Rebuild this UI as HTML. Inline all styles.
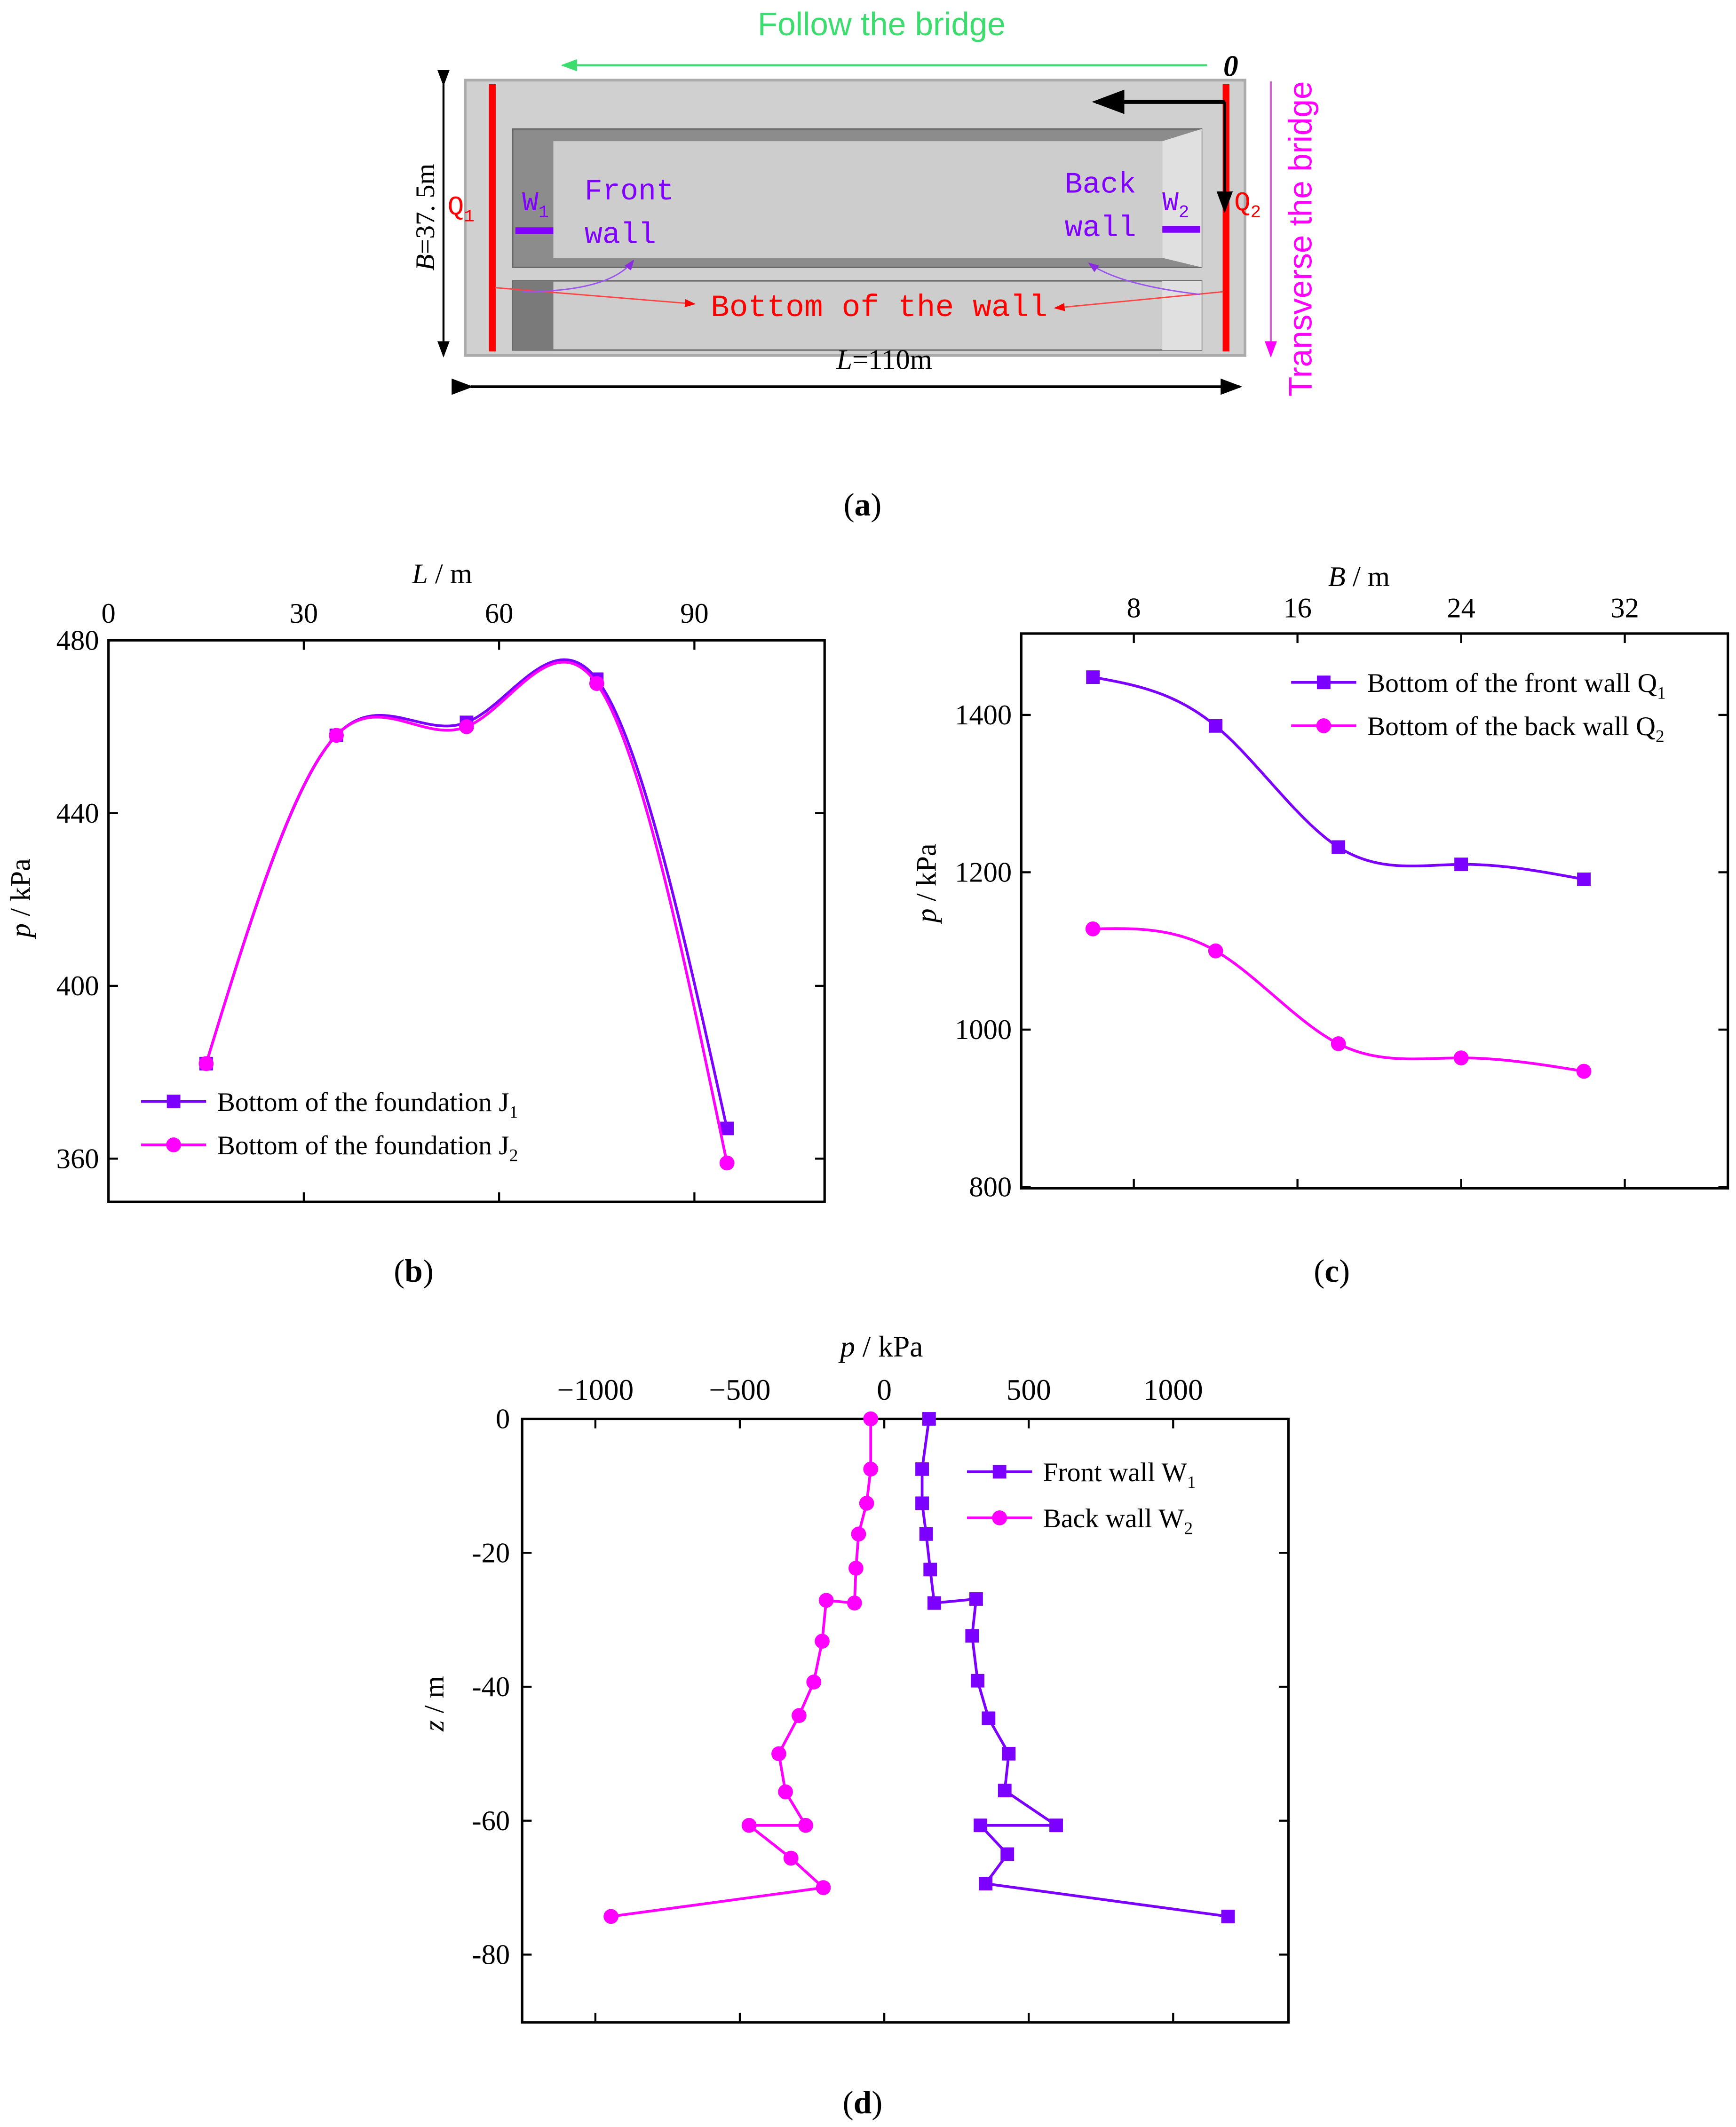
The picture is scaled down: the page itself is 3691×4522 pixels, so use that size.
<!DOCTYPE html>
<html><head><meta charset="utf-8"><style>
html,body{margin:0;padding:0;background:#fff;}
svg{display:block;}
.t{font-family:"Liberation Serif",serif;fill:#000;}
</style></head><body>
<svg id="fig" width="3691" height="4522" viewBox="0 0 1280 1568" xmlns="http://www.w3.org/2000/svg">
<defs>
<marker id="ag" markerWidth="8" markerHeight="8" refX="7" refY="4" orient="auto"><path d="M0,1 L8,4 L0,7 z" fill="#3ddc6e"/></marker>
<marker id="ak" markerWidth="8" markerHeight="8" refX="7" refY="4" orient="auto"><path d="M0,1 L8,4 L0,7 z" fill="#000"/></marker>
<marker id="am" markerWidth="8" markerHeight="8" refX="7" refY="4" orient="auto"><path d="M0,1 L8,4 L0,7 z" fill="#ff00ff"/></marker>
<marker id="ar" markerWidth="8" markerHeight="8" refX="7" refY="4" orient="auto"><path d="M0,1 L8,4 L0,7 z" fill="#ff0000"/></marker>
<marker id="ap" markerWidth="8" markerHeight="8" refX="7" refY="4" orient="auto"><path d="M0,1 L8,4 L0,7 z" fill="#8a2be2"/></marker>
</defs>
<!-- panel a -->
<g>
<text x="650" y="26" text-anchor="middle" font-family="Liberation Sans,sans-serif" font-size="24" fill="#3ddc6e">Follow the bridge</text>
<line x1="890" y1="48" x2="415" y2="48" stroke="#3ddc6e" stroke-width="1.5" marker-end="url(#ag)"/>
<text x="902" y="56" font-family="Liberation Serif,serif" font-style="italic" font-weight="bold" font-size="22">0</text>
<rect x="343" y="59" width="575" height="203" fill="#d0d0d0" stroke="#aaa" stroke-width="2"/>
<rect x="378" y="95" width="508" height="102" fill="#8c8c8c" stroke="#666"/>
<rect x="408" y="104" width="449" height="86" fill="#cdcdcd"/>
<polygon points="857,104 886,95 886,197 857,190" fill="#e0e0e0"/>
<rect x="378" y="207" width="508" height="51" fill="#cdcdcd" stroke="#666"/>
<rect x="378" y="207" width="30" height="51" fill="#7a7a7a"/>
<rect x="857" y="207" width="29" height="51" fill="#e0e0e0"/>
<line x1="363" y1="62" x2="363" y2="259" stroke="#ff0000" stroke-width="5"/>
<line x1="904" y1="62" x2="904" y2="259" stroke="#ff0000" stroke-width="5"/>
<line x1="380" y1="170" x2="408" y2="170" stroke="#8000ff" stroke-width="5"/>
<line x1="857" y1="169" x2="885" y2="169" stroke="#8000ff" stroke-width="5"/>
<line x1="903" y1="75" x2="808" y2="75" stroke="#000" stroke-width="3" marker-end="url(#ak)"/>
<line x1="903" y1="75" x2="903" y2="155" stroke="#000" stroke-width="2" marker-end="url(#ak)"/>
<line x1="327" y1="62" x2="327" y2="262" stroke="#000" stroke-width="1.5" marker-end="url(#ak)" marker-start="url(#ak)"/>
<line x1="347" y1="285" x2="914" y2="285" stroke="#000" stroke-width="2" marker-end="url(#ak)" marker-start="url(#ak)"/>
<line x1="937" y1="60" x2="937" y2="262" stroke="#cc66cc" stroke-width="1.5" marker-end="url(#am)"/>
<text transform="translate(320,160) rotate(-90)" text-anchor="middle" font-family="Liberation Serif,serif" font-size="20"><tspan font-style="italic">B</tspan>=37. 5m</text>
<text x="652" y="272" text-anchor="middle" font-family="Liberation Serif,serif" font-size="21"><tspan font-style="italic">L</tspan>=110m</text>
<text transform="translate(967,176) rotate(-90)" text-anchor="middle" font-family="Liberation Sans,sans-serif" font-size="24" fill="#ff00ff">Transverse the bridge</text>
<g font-family="Liberation Mono,monospace" font-size="22" fill="#8000ff">
<text x="431" y="147">Front</text>
<text x="431" y="179">wall</text>
<text x="785" y="142">Back</text>
<text x="785" y="174">wall</text>
<text x="385" y="155" font-size="20">W<tspan font-size="13" dy="5">1</tspan></text>
<text x="857" y="155" font-size="20">W<tspan font-size="13" dy="5">2</tspan></text>
</g>
<text x="330" y="158" font-family="Liberation Mono,monospace" font-size="20" fill="#ff0000">Q<tspan font-size="13" dy="5">1</tspan></text>
<text x="910" y="155" font-family="Liberation Mono,monospace" font-size="20" fill="#ff0000">Q<tspan font-size="13" dy="5">2</tspan></text>
<text x="524" y="233" font-family="Liberation Mono,monospace" font-size="23" fill="#ff0000">Bottom of the wall</text>
<line x1="365" y1="212" x2="512" y2="224" stroke="#ff4444" stroke-width="1" marker-end="url(#ar)"/>
<line x1="902" y1="215" x2="778" y2="227" stroke="#ff4444" stroke-width="1" marker-end="url(#ar)"/>
<path d="M385,215 Q450,215 467,192" fill="none" stroke="#9955ee" stroke-width="1" marker-end="url(#ap)"/>
<path d="M885,217 Q825,210 803,194" fill="none" stroke="#9955ee" stroke-width="1" marker-end="url(#ap)"/>
</g>
<g class="t" font-size="24">
<text x="636" y="380" text-anchor="middle">(<tspan font-weight="bold">a</tspan>)</text>
<text x="305" y="945" text-anchor="middle">(<tspan font-weight="bold">b</tspan>)</text>
<text x="982" y="945" text-anchor="middle">(<tspan font-weight="bold">c</tspan>)</text>
<text x="636" y="1558" text-anchor="middle">(<tspan font-weight="bold">d</tspan>)</text>
</g>
<g id="charts"></g>
</svg>
<script>
// ---- chart b data ----
const bL = [15, 35, 55, 75, 95];
const bJ1 = [382, 458, 461, 471, 367];
const bJ2 = [382, 458, 460, 470, 359];
const bXTicks = [0, 30, 60, 90];
const bYTicks = [360, 400, 440, 480];
// ---- chart c data ----
const cB = [6, 12, 18, 24, 30];
const cQ1 = [1448, 1386, 1232, 1210, 1191];
const cQ2 = [1128, 1100, 982, 964, 947];
const cXTicks = [8, 16, 24, 32];
const cYTicks = [800, 1000, 1200, 1400];
// ---- chart d data ----
const dZ1 = [0, -7.5, -12.6, -17.2, -22.5, -27.5, -26.9, -32.4, -39.1, -44.7, -50, -55.5, -60.7, -60.7, -65, -69.4, -74.3];
const dW1 = [155, 131, 131, 145, 159, 173, 318, 304, 323, 361, 431, 417, 595, 333, 426, 351, 1190];
const dZ2 = [0, -7.5, -12.6, -17.2, -22.3, -27.5, -27.1, -33.2, -39.3, -44.3, -50, -55.7, -60.7, -60.7, -65.6, -70, -74.3];
const dW2 = [-47, -47, -61, -89, -98, -103, -201, -215, -244, -295, -365, -342, -272, -468, -323, -211, -946];
const dXTicks = [-1000, -500, 0, 500, 1000];
const dYTicks = [0, -20, -40, -60, -80];

const NS = "http://www.w3.org/2000/svg";
const root = document.getElementById('charts');
function mk(tag, attrs, parent) {
  const e = document.createElementNS(NS, tag);
  for (const k in attrs) e.setAttribute(k, attrs[k]);
  (parent || root).appendChild(e);
  return e;
}
function lin(d0, d1, r0, r1) { return v => r0 + (v - d0) * (r1 - r0) / (d1 - d0); }
function spline(xs, ys) {
  const n = xs.length, h = [], al = [0], l = [1], mu = [0], z = [0], c = new Array(n).fill(0), b = [], d = [];
  for (let i = 0; i < n - 1; i++) h[i] = xs[i + 1] - xs[i];
  for (let i = 1; i < n - 1; i++) al[i] = 3 / h[i] * (ys[i + 1] - ys[i]) - 3 / h[i - 1] * (ys[i] - ys[i - 1]);
  for (let i = 1; i < n - 1; i++) { l[i] = 2 * (xs[i + 1] - xs[i - 1]) - h[i - 1] * mu[i - 1]; mu[i] = h[i] / l[i]; z[i] = (al[i] - h[i - 1] * z[i - 1]) / l[i]; }
  for (let j = n - 2; j >= 0; j--) { c[j] = (z[j] || 0) - (mu[j] || 0) * c[j + 1]; b[j] = (ys[j + 1] - ys[j]) / h[j] - h[j] * (c[j + 1] + 2 * c[j]) / 3; d[j] = (c[j + 1] - c[j]) / (3 * h[j]); }
  const pts = [];
  for (let i = 0; i < n - 1; i++) for (let s = 0; s <= 40; s++) { const t = h[i] * s / 40; pts.push([xs[i] + t, ys[i] + b[i] * t + c[i] * t * t + d[i] * t * t * t]); }
  return pts;
}
function frame(x0, y0, x1, y1, name) {
  const r = mk('rect', { x: x0, y: y0, width: x1 - x0, height: y1 - y0, fill: 'none', stroke: '#000', 'stroke-width': 1.8 });
  
  
}
function txt(x, y, s, anchor, size, name) {
  const t = mk('text', { x: x, y: y, 'text-anchor': anchor, 'font-size': size, class: 't' });
  t.innerHTML = s;
  
  
  return t;
}
function series(pts, color, marker, smooth, sx, sy, name) {
  const p = smooth ? spline(pts.map(q => q[0]), pts.map(q => q[1])) : pts;
  const line = mk('polyline', { points: p.map(q => sx(q[0]).toFixed(2) + ',' + sy(q[1]).toFixed(2)).join(' '), fill: 'none', stroke: color, 'stroke-width': 2 });
  
  
  pts.forEach(q => {
    const m = marker === 's' ? mk('rect', { x: sx(q[0]) - 5, y: sy(q[1]) - 5, width: 10, height: 10, fill: color }) : mk('circle', { cx: sx(q[0]), cy: sy(q[1]), r: 5.5, fill: color });
    
    
  });
}
function legend(x, y, color, marker, label, name) {
  const l = mk('line', { x1: x, y1: y, x2: x + 48, y2: y, stroke: color, 'stroke-width': 2 });
  
  
  const m = marker === 's' ? mk('rect', { x: x + 19, y: y - 5, width: 10, height: 10, fill: color }) : mk('circle', { cx: x + 24, cy: y, r: 5.5, fill: color });
  
  
  txt(x + 56, y + 7, label, 'start', 20, name + '-label');
}
const PU = '#7b00ff', MG = '#ff00ff';

// ---- chart b ----
(function () {
  const x0 = 80, x1 = 608, y0 = 472, y1 = 886;
  const sx = lin(0, 110, x0, x0 + 528), sy = lin(480, 350, y0, y1);
  frame(x0, y0, x1, y1, 'chart-b-frame');
  bXTicks.forEach(v => { mk('line', { x1: sx(v), y1: y0, x2: sx(v), y2: y0 + 7, stroke: '#000', 'stroke-width': 1.5 }); mk('line', { x1: sx(v), y1: y1, x2: sx(v), y2: y1 - 7, stroke: '#000', 'stroke-width': 1.5 }); txt(sx(v), y0 - 13, v, 'middle', 21, 'b-x-tick-label'); });
  bYTicks.forEach(v => { mk('line', { x1: x0, y1: sy(v), x2: x0 + 7, y2: sy(v), stroke: '#000', 'stroke-width': 1.5 }); mk('line', { x1: x1, y1: sy(v), x2: x1 - 7, y2: sy(v), stroke: '#000', 'stroke-width': 1.5 }); txt(x0 - 7, sy(v) + 7, v, 'end', 21, 'b-y-tick-label'); });
  txt(326, 430, '<tspan font-style="italic">L</tspan> / m', 'middle', 21, 'b-x-axis-title');
  const yt = txt(0, 0, '<tspan font-style="italic">p</tspan> / kPa', 'middle', 21, 'b-y-axis-title');
  yt.setAttribute('transform', 'translate(22,662) rotate(-90)');
  series(bL.map((v, i) => [v, bJ1[i]]), PU, 's', true, sx, sy, 'series-j1');
  series(bL.map((v, i) => [v, bJ2[i]]), MG, 'c', true, sx, sy, 'series-j2');
  legend(104, 812, PU, 's', 'Bottom of the foundation J<tspan font-size="13" dy="5">1</tspan>', 'legend-j1');
  legend(104, 844, MG, 'c', 'Bottom of the foundation J<tspan font-size="13" dy="5">2</tspan>', 'legend-j2');
})();

// ---- chart c ----
(function () {
  const x0 = 753, x1 = 1274, y0 = 467, y1 = 876;
  const sx = lin(8, 32, 836, 1198), sy = lin(1400, 800, 527, 875);
  frame(x0, y0, x1, y1, 'chart-c-frame');
  cXTicks.forEach(v => { mk('line', { x1: sx(v), y1: y0, x2: sx(v), y2: y0 + 7, stroke: '#000', 'stroke-width': 1.5 }); mk('line', { x1: sx(v), y1: y1, x2: sx(v), y2: y1 - 7, stroke: '#000', 'stroke-width': 1.5 }); txt(sx(v), y0 - 12, v, 'middle', 21, 'c-x-tick-label'); });
  cYTicks.forEach(v => { mk('line', { x1: x0, y1: sy(v), x2: x0 + 7, y2: sy(v), stroke: '#000', 'stroke-width': 1.5 }); mk('line', { x1: x1, y1: sy(v), x2: x1 - 7, y2: sy(v), stroke: '#000', 'stroke-width': 1.5 }); txt(x0 - 7, sy(v) + 7, v, 'end', 21, 'c-y-tick-label'); });
  txt(1002, 432, '<tspan font-style="italic">B</tspan> / m', 'middle', 21, 'c-x-axis-title');
  const yt = txt(0, 0, '<tspan font-style="italic">p</tspan> / kPa', 'middle', 21, 'c-y-axis-title');
  yt.setAttribute('transform', 'translate(690,651) rotate(-90)');
  series(cB.map((v, i) => [v, cQ1[i]]), PU, 's', true, sx, sy, 'series-q1');
  series(cB.map((v, i) => [v, cQ2[i]]), MG, 'c', true, sx, sy, 'series-q2');
  legend(952, 503, PU, 's', 'Bottom of the front wall Q<tspan font-size="13" dy="5">1</tspan>', 'legend-q1');
  legend(952, 535, MG, 'c', 'Bottom of the back wall Q<tspan font-size="13" dy="5">2</tspan>', 'legend-q2');
})();

// ---- chart d ----
(function () {
  const x0 = 385, x1 = 950, y0 = 1046, y1 = 1491;
  const sx = lin(0, 1000, 652, 865), sy = lin(0, -80, 1046, 1441);
  frame(x0, y0, x1, y1, 'chart-d-frame');
  dXTicks.forEach(v => { mk('line', { x1: sx(v), y1: y0, x2: sx(v), y2: y0 + 7, stroke: '#000', 'stroke-width': 1.5 }); mk('line', { x1: sx(v), y1: y1, x2: sx(v), y2: y1 - 7, stroke: '#000', 'stroke-width': 1.5 }); txt(sx(v), y0 - 14, String(v).replace('-', '\u2212'), 'middle', 22, 'd-x-tick-label'); });
  dYTicks.forEach(v => { mk('line', { x1: x0, y1: sy(v), x2: x0 + 7, y2: sy(v), stroke: '#000', 'stroke-width': 1.5 }); mk('line', { x1: x1, y1: sy(v), x2: x1 - 7, y2: sy(v), stroke: '#000', 'stroke-width': 1.5 }); txt(x0 - 9, sy(v) + 7, v, 'end', 21, 'd-y-tick-label'); });
  txt(650, 1000, '<tspan font-style="italic">p</tspan> / kPa', 'middle', 22, 'd-x-axis-title');
  const yt = txt(0, 0, '<tspan font-style="italic">z</tspan> / m', 'middle', 21, 'd-y-axis-title');
  yt.setAttribute('transform', 'translate(327,1256) rotate(-90)');
  series(dW1.map((v, i) => [v, dZ1[i]]), PU, 's', false, sx, sy, 'series-w1');
  series(dW2.map((v, i) => [v, dZ2[i]]), MG, 'c', false, sx, sy, 'series-w2');
  legend(713, 1085, PU, 's', 'Front wall W<tspan font-size="13" dy="5">1</tspan>', 'legend-w1');
  legend(713, 1119, MG, 'c', 'Back wall W<tspan font-size="13" dy="5">2</tspan>', 'legend-w2');
})();
</script>
</body></html>
